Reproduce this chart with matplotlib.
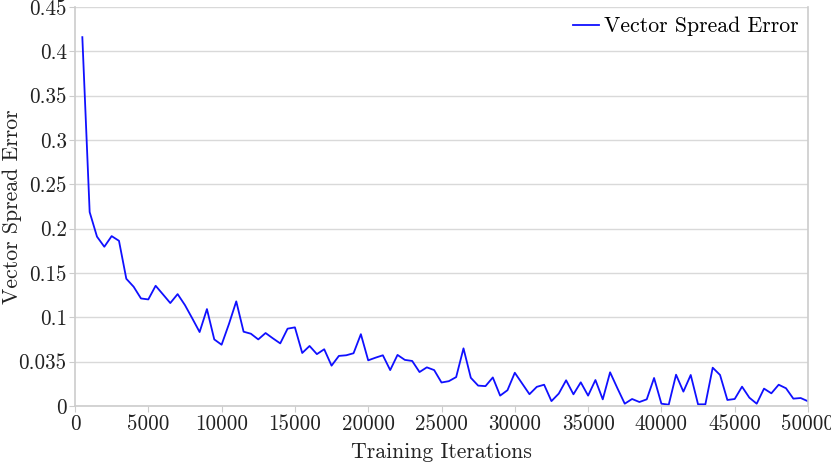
import matplotlib
matplotlib.use("Agg")
import matplotlib.pyplot as plt
import numpy as np

plt.rcParams['font.family'] = ['cmr10', 'DejaVu Serif']
plt.rcParams['axes.formatter.use_mathtext'] = True
plt.rcParams['mathtext.fontset'] = 'cm'

iterations = list(range(500, 50001, 500))
errors = [
    0.416, 0.2187, 0.191, 0.1796, 0.1916, 0.1863, 0.1435, 0.1345, 0.1213, 0.1202,
    0.1356, 0.1259, 0.1161, 0.1262, 0.1138, 0.0988, 0.0834, 0.1093, 0.0751, 0.0691,
    0.0924, 0.118, 0.0838, 0.0815, 0.0751, 0.0823, 0.0763, 0.0706, 0.0872, 0.0887,
    0.0598, 0.0677, 0.0585, 0.064, 0.0455, 0.0565, 0.0572, 0.0595, 0.081, 0.0515,
    0.0545, 0.0572, 0.0405, 0.0576, 0.052, 0.0508, 0.0383, 0.0436, 0.0405, 0.0265,
    0.028, 0.0326, 0.065, 0.0318, 0.023, 0.0224, 0.0322, 0.0117, 0.0178, 0.0375,
    0.0254, 0.0133, 0.0216, 0.024, 0.0055, 0.0140, 0.029, 0.0132, 0.0267, 0.0117,
    0.0293, 0.0075, 0.038, 0.020, 0.0026, 0.0079, 0.0045, 0.0075, 0.0316, 0.0026,
    0.0015, 0.0353, 0.0162, 0.035, 0.0019, 0.0019, 0.0432, 0.035, 0.0068, 0.0079,
    0.0218, 0.0094, 0.0026, 0.0196, 0.0143, 0.024, 0.020, 0.0083, 0.009, 0.0053,
]

x_ticks = list(range(0, 50001, 5000))
y_ticks = [0, 0.05, 0.1, 0.15, 0.2, 0.25, 0.3, 0.35, 0.4, 0.45]
y_tick_labels = ['0', '0.035', '0.1', '0.15', '0.2', '0.25', '0.3', '0.35', '0.4', '0.45']

fig = plt.figure(figsize=(8.31, 4.62), dpi=100)
ax = fig.add_axes([75/831, 56/462, 733/831, 399/462])

ax.plot(iterations, errors, color='#1010ff', lw=1.3, label='Vector Spread Error')

ax.set_xlim(0, 50000)
ax.set_ylim(0, 0.45)
ax.set_xticks(x_ticks)
ax.set_xticklabels([str(v) for v in x_ticks])
ax.set_yticks(y_ticks)
ax.set_yticklabels(y_tick_labels)

ax.grid(axis='y', color='#d9d9d9', lw=1)
ax.set_axisbelow(True)
for s in ['left', 'bottom', 'right']:
    ax.spines[s].set_color('#cccccc')
    ax.spines[s].set_linewidth(1.2)
ax.spines['top'].set_visible(False)
ax.tick_params(axis='both', colors='#cccccc', labelcolor='#222222', length=4,
               labelsize=15.2, direction='out')
ax.tick_params(axis='x', pad=2)
ax.tick_params(axis='y', pad=2)

ax.set_xlabel('Training Iterations', fontsize=15.7, color='#222222')
ax.set_ylabel('Vector Spread Error', fontsize=15.7, color='#222222')
ax.xaxis.set_label_coords(0.5, -0.115)
ax.yaxis.set_label_coords(-0.086, 0.5)
ax.xaxis.label.set_va('center')
ax.yaxis.label.set_va('center')

leg = ax.legend(loc='upper right', frameon=False, fontsize=15.7, handlelength=1.15,
                handletextpad=0.23, borderaxespad=0.05)

fig.savefig('out.png', dpi=100)
